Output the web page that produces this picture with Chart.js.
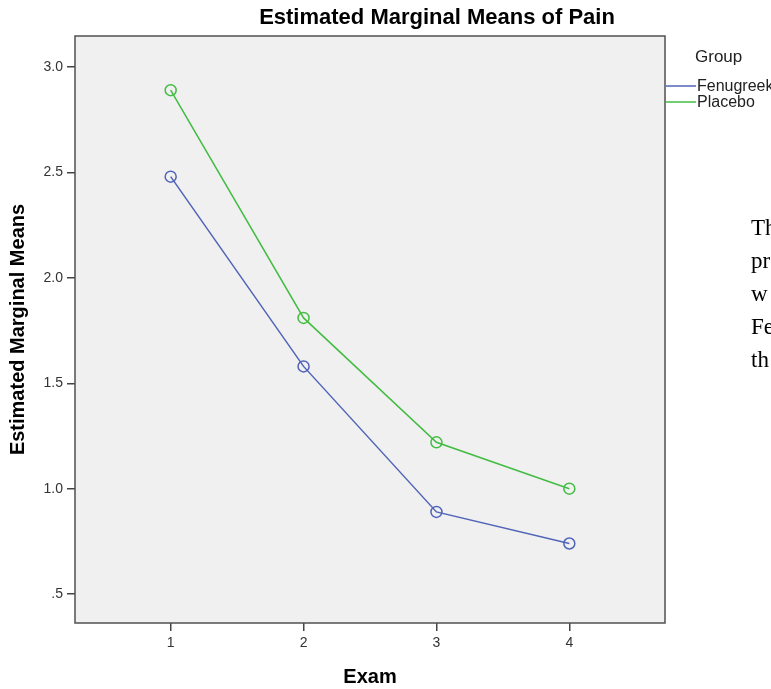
<!DOCTYPE html>
<html>
<head>
<meta charset="utf-8">
<script src="https://cdn.jsdelivr.net/npm/chart.js@4"></script>
<style>
  html, body { margin: 0; padding: 0; background: #fff; overflow: hidden; }
  #wrap { width: 771px; height: 689px; position: relative; }
</style>
</head>
<body>
<div id="wrap"><canvas id="pain" width="771" height="689"></canvas></div>
<script>
// data
const examLabels = [1, 2, 3, 4];
const groupNames = ['Fenugreek', 'Placebo'];
const fenugreekMeans = [2.48, 1.58, 0.89, 0.74];
const placeboMeans = [2.89, 1.81, 1.22, 1.00];
const yTickValues = [0.5, 1.0, 1.5, 2.0, 2.5, 3.0];
const yTickLabels = ['.5', '1.0', '1.5', '2.0', '2.5', '3.0'];
const sideText = ['Th', 'pr', 'w', 'Fe', 'th'];

const blue = '#5064b8';
const green = '#42bd42';
const sans = '"Liberation Sans", Arial, sans-serif';

const extras = {
    id: 'extras',
    beforeDraw(chart) {
        const c = chart.ctx, a = chart.chartArea;
        c.save();
        c.fillStyle = '#f0f0f0';
        c.fillRect(a.left, a.top, a.right - a.left, a.bottom - a.top);
        c.restore();
    },
    afterDraw(chart) {
        const c = chart.ctx, a = chart.chartArea;
        c.save();
        // plot frame
        c.strokeStyle = '#505050';
        c.lineWidth = 1.5;
        c.strokeRect(a.left, a.top, a.right - a.left, a.bottom - a.top);

        // title
        c.fillStyle = '#000';
        c.font = 'bold 22px ' + sans;
        c.textAlign = 'center';
        c.textBaseline = 'middle';
        c.fillText('Estimated Marginal Means of Pain', 437, 18);

        // legend
        c.textAlign = 'left';
        c.fillStyle = '#222';
        c.font = '17px ' + sans;
        c.fillText('Group', 695, 57);
        c.font = '16px ' + sans;
        chart.data.datasets.forEach((ds, i) => {
            const y = 86 + i * 16;
            c.strokeStyle = ds.borderColor;
            c.lineWidth = 1.5;
            c.beginPath();
            c.moveTo(a.right + 1, y);
            c.lineTo(a.right + 31, y);
            c.stroke();
            c.fillText(ds.label, a.right + 32, y + 1);
        });

        // cut-off document text on the right
        c.fillStyle = '#000';
        c.font = '23px "Liberation Serif", "Times New Roman", serif';
        c.textBaseline = 'alphabetic';
        sideText.forEach((t, i) => c.fillText(t, 751, 235 + i * 33));
        c.restore();
    }
};

new Chart(document.getElementById('pain').getContext('2d'), {
    type: 'line',
    data: {
        datasets: [
            {
                label: groupNames[0],
                data: examLabels.map((x, i) => ({ x: x, y: fenugreekMeans[i] })),
                borderColor: blue,
                backgroundColor: 'transparent',
                borderWidth: 1.5,
                pointRadius: 5.5,
                pointBorderWidth: 1.5,
                pointBackgroundColor: 'transparent',
                pointBorderColor: blue,
                tension: 0
            },
            {
                label: groupNames[1],
                data: examLabels.map((x, i) => ({ x: x, y: placeboMeans[i] })),
                borderColor: green,
                backgroundColor: 'transparent',
                borderWidth: 1.5,
                pointRadius: 5.5,
                pointBorderWidth: 1.5,
                pointBackgroundColor: 'transparent',
                pointBorderColor: green,
                tension: 0
            }
        ]
    },
    options: {
        responsive: false,
        animation: false,
        layout: { padding: { left: 0, top: 36, right: 106, bottom: 0 } },
        plugins: {
            legend: { display: false },
            tooltip: { enabled: false }
        },
        scales: {
            x: {
                type: 'linear',
                min: 0.28,
                max: 4.72,
                afterBuildTicks: s => { s.ticks = examLabels.map(v => ({ value: v })); },
                afterFit: s => { s.height = 66; },
                border: { display: false },
                grid: { drawOnChartArea: false, drawTicks: true, tickLength: 8, color: '#444', lineWidth: 1.5 },
                ticks: { padding: 4, color: '#333', font: { family: sans, size: 14 } },
                title: {
                    display: true,
                    text: 'Exam',
                    color: '#000',
                    padding: { top: 0, bottom: 0 },
                    font: { family: sans, size: 20, weight: 'bold' }
                }
            },
            y: {
                type: 'linear',
                min: 0.363,
                max: 3.147,
                afterBuildTicks: s => { s.ticks = yTickValues.map(v => ({ value: v })); },
                afterFit: s => { s.width = 75; },
                border: { display: false },
                grid: { drawOnChartArea: false, drawTicks: true, tickLength: 8, color: '#444', lineWidth: 1.5 },
                ticks: {
                    padding: 4,
                    color: '#333',
                    font: { family: sans, size: 14 },
                    callback: v => yTickLabels[yTickValues.indexOf(v)]
                },
                title: {
                    display: true,
                    text: 'Estimated Marginal Means',
                    color: '#000',
                    padding: { top: 6, bottom: 0 },
                    font: { family: sans, size: 20, weight: 'bold' }
                }
            }
        }
    },
    plugins: [extras]
});
</script>
</body>
</html>
